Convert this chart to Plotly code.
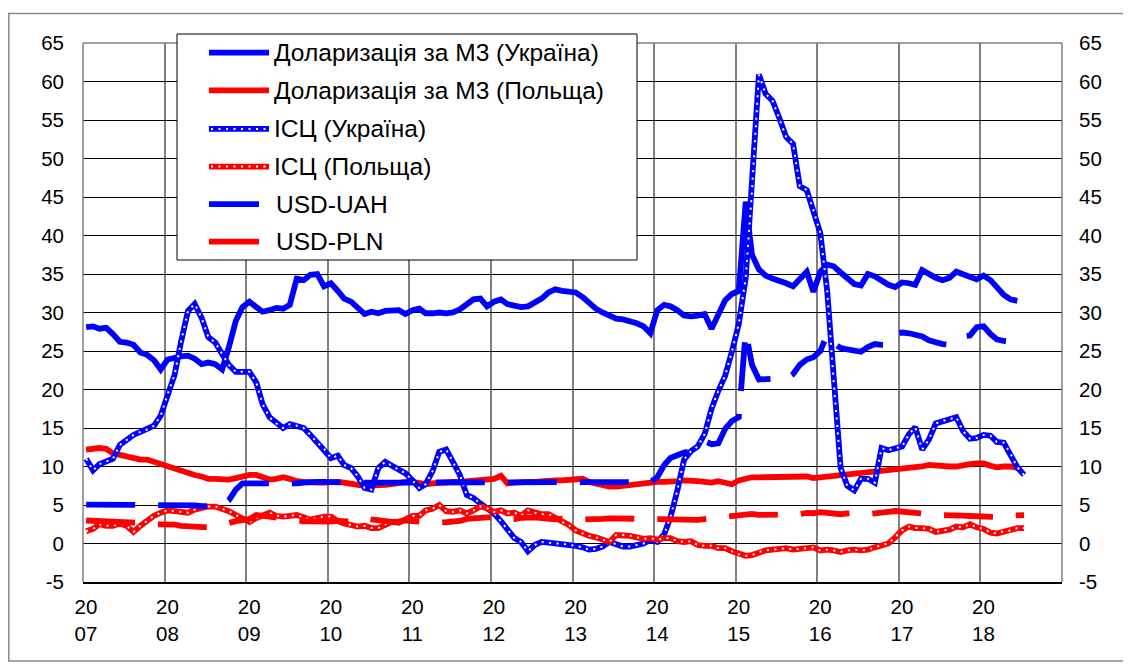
import pandas as pd
import plotly.graph_objects as go

# ---------------- DATA (monthly, Jan 2007 onwards) ----------------
start_month = "2007-01-01"

m3_ukraine = [
    28.1, 28.2, 27.9, 28.0, 27.2, 26.2, 26.1, 25.8, 24.8, 24.5, 23.8, 22.6,   # 2007
    23.9, 24.2, 24.3, 24.4, 24.0, 23.3, 23.5, 23.3, 22.6, 25.5, 28.9, 30.7,   # 2008
    31.4, 30.7, 30.1, 30.3, 30.6, 30.5, 31.0, 34.4, 34.2, 34.9, 35.0, 33.4,   # 2009
    33.8, 32.8, 31.8, 31.4, 30.6, 29.8, 30.1, 29.9, 30.2, 30.3, 30.3, 29.8,   # 2010
    30.3, 30.5, 29.9, 29.9, 30.0, 29.9, 30.0, 30.4, 31.0, 31.7, 31.8, 30.8,   # 2011
    31.4, 31.7, 31.1, 30.8, 30.7, 30.8, 31.3, 31.8, 32.6, 33.0, 32.8, 32.7,   # 2012
    32.6, 32.0, 31.2, 30.5, 30.0, 29.6, 29.2, 29.1, 28.9, 28.6, 28.2, 27.3,   # 2013
    30.3, 31.0, 30.8, 30.3, 29.6, 29.5, 29.6, 29.8, 27.9, 29.8, 31.6, 32.4,   # 2014
    32.8, 44.4, 37.5, 35.6, 34.8, 34.4, 34.2, 33.8, 33.4, 34.3, 35.3, 32.7,   # 2015
    35.3, 36.2, 36.0, 35.2, 34.4, 33.7, 33.5, 35.0, 34.7, 34.1, 33.6, 33.3,   # 2016
    33.9, 33.8, 33.6, 35.5, 34.9, 34.5, 34.2, 34.5, 35.3, 35.0, 34.5, 34.3,   # 2017
    34.8, 34.2, 33.3, 32.3, 31.7, 31.5,                                       # 2018
]

m3_poland = [
    12.2, 12.3, 12.4, 12.3, 11.7, 11.5, 11.3, 11.0, 10.9, 10.9, 10.6, 10.2,
    10.0, 9.7, 9.4, 9.1, 8.9, 8.7, 8.4, 8.4, 8.4, 8.3, 8.5, 8.7,
    8.9, 8.9, 8.6, 8.3, 8.4, 8.6, 8.4, 8.1, 8.0, 7.9, 7.9, 7.9,
    8.0, 8.0, 7.9, 7.7, 7.6, 7.5, 7.5, 7.5, 7.6, 7.7, 7.9, 8.0,
    8.0, 7.9, 7.7, 7.8, 7.9, 8.0, 8.0, 8.0, 8.1, 8.2, 8.2, 8.3,
    8.4, 8.8, 7.8, 7.9, 8.0, 8.0, 8.0, 8.1, 8.1, 8.2, 8.2, 8.3,
    8.3, 8.4, 8.0, 7.8, 7.7, 7.4, 7.4, 7.5, 7.6, 7.7, 7.9, 8.0,
    8.0, 8.0, 8.0, 8.1, 8.2, 8.2, 8.1, 8.0, 7.9, 8.1, 7.9, 7.7,
    8.2, 8.5, 8.6, 8.6, 8.6, 8.6, 8.7, 8.6, 8.6, 8.7, 8.7, 8.5,
    8.6, 8.6, 8.7, 8.8, 8.9, 9.0, 9.1, 9.2, 9.2, 9.3, 9.4, 9.5,
    9.6, 9.8, 9.9, 10.0, 10.2, 10.1, 10.0, 10.0, 10.0, 10.2, 10.3, 10.4,
    10.4, 10.1, 9.9, 10.0, 10.0, 9.8,
]

cpi_ukraine = [
    11.0, 9.5, 10.3, 10.7, 11.0, 12.8, 13.5, 14.1, 14.5, 14.8, 15.3, 16.6,
    19.4, 21.9, 26.2, 30.2, 31.1, 29.3, 26.8, 26.1, 24.6, 23.2, 22.3, 22.3,
    22.3, 20.9, 18.1, 16.4, 15.6, 15.0, 15.5, 15.3, 15.0, 14.1, 13.1, 12.3,
    11.1, 11.4, 10.2, 9.8, 8.7, 7.2, 7.0, 9.8, 10.6, 10.1, 9.6, 9.1,
    8.2, 7.2, 7.7, 9.4, 11.9, 12.2, 10.6, 8.9, 6.3, 5.9, 5.2, 4.6,
    3.9, 2.9, 1.9, 0.7, 0.2, -1.0, -0.2, 0.2, 0.1, 0.0, 0.0, -0.2,
    -0.3, -0.5, -0.8, -0.7, -0.4, 0.2, -0.1, -0.4, -0.4, -0.2, 0.0, 0.5,
    0.2, 1.2, 3.4, 6.9, 10.9, 12.0, 12.6, 14.2, 17.5, 19.8, 21.8, 24.9,
    28.5, 34.5, 45.8, 60.9, 58.4, 57.5, 55.3, 52.8, 51.9, 46.4, 45.9, 43.3,
    40.3, 32.7, 20.9, 9.8, 7.5, 6.9, 8.4, 8.4, 7.9, 12.4, 12.1, 12.4,
    12.6, 14.2, 15.1, 12.2, 13.5, 15.6, 15.9, 16.2, 16.4, 14.6, 13.6, 13.7,
    14.1, 14.0, 13.2, 13.1, 11.7, 9.9, 8.9,
]

cpi_poland = [
    1.6, 1.9, 2.5, 2.3, 2.3, 2.6, 2.3, 1.5, 2.3, 3.0, 3.6, 4.0,
    4.3, 4.2, 4.1, 4.0, 4.4, 4.6, 4.8, 4.8, 4.5, 4.2, 3.7, 3.3,
    2.8, 3.3, 3.6, 4.0, 3.6, 3.5, 3.6, 3.7, 3.4, 3.1, 3.3, 3.5,
    3.5, 2.9, 2.6, 2.4, 2.2, 2.3, 2.0, 2.0, 2.5, 2.8, 2.7, 3.1,
    3.6, 3.6, 4.3, 4.5, 5.0, 4.2, 4.1, 4.3, 3.9, 4.3, 4.8, 4.6,
    4.1, 4.3, 3.9, 4.0, 3.6, 4.3, 4.0, 3.8, 3.8, 3.4, 2.8, 2.4,
    1.7, 1.3, 1.0, 0.8, 0.5, 0.2, 1.1, 1.1, 1.0, 0.8, 0.6, 0.7,
    0.5, 0.7, 0.7, 0.3, 0.2, 0.3, -0.2, -0.3, -0.3, -0.6, -0.6, -1.0,
    -1.4, -1.6, -1.5, -1.1, -0.9, -0.8, -0.7, -0.6, -0.8, -0.7, -0.6, -0.5,
    -0.9, -0.8, -0.9, -1.1, -0.9, -0.8, -0.9, -0.8, -0.5, -0.2, 0.0, 0.8,
    1.7, 2.2, 2.0, 2.0, 1.9, 1.5, 1.7, 1.8, 2.2, 2.1, 2.5, 2.1,
    1.9, 1.4, 1.3, 1.6, 1.7, 2.0, 2.0,
]

usd_uah = [
    5.05, 5.05, 5.05, 5.05, 5.05, 5.05, 5.05, 5.05, 5.05, 5.05, 5.05, 5.05,
    5.05, 5.05, 5.05, 5.05, 4.95, 4.85, 4.85, 4.85, 4.9, 5.6, 7.0, 7.8,
    7.8, 7.7, 7.7, 7.7, 7.7, 7.7, 7.7, 7.8, 7.9, 8.0, 8.0, 8.0,
    7.95, 7.95, 7.9, 7.9, 7.9, 7.9, 7.9, 7.9, 7.9, 7.9, 7.95, 7.95,
    7.95, 7.95, 7.95, 7.95, 7.95, 7.95, 7.95, 7.95, 7.97, 7.98, 7.98, 7.99,
    7.99, 7.99, 7.99, 7.99, 7.99, 7.99, 7.99, 7.99, 7.99, 7.99, 7.99, 7.99,
    7.99, 7.99, 7.99, 7.99, 7.99, 7.99, 7.99, 7.99, 7.99, 7.99, 7.99, 7.99,
    8.6, 10.2, 11.1, 11.5, 11.8, 12.0, 12.8, 13.3, 12.9, 13.0, 14.9, 15.9,
    16.4, 27.5, 23.2, 21.3, 21.3, 21.4, 21.7, 21.4, 22.0, 23.2, 23.9, 24.2,
    25.0, 27.2, 26.0, 25.4, 25.2, 25.0, 24.9, 25.5, 25.9, 25.8, 25.8, 27.3,
    27.4, 27.3, 27.2, 26.9, 26.4, 26.1, 25.9, 25.8, 26.5, 26.9, 27.0, 28.1,
    28.2, 27.2, 26.5, 26.3, 26.2, 26.6,
]

usd_pln = [
    2.99, 2.97, 2.93, 2.83, 2.79, 2.85, 2.74, 2.80, 2.76, 2.63, 2.49, 2.49,
    2.46, 2.44, 2.29, 2.21, 2.21, 2.17, 2.07, 2.20, 2.36, 2.67, 2.90, 2.97,
    3.18, 3.71, 3.59, 3.40, 3.25, 3.24, 3.03, 2.87, 2.88, 2.87, 2.83, 2.87,
    2.86, 2.95, 2.87, 2.86, 3.18, 3.35, 3.14, 3.02, 3.00, 2.82, 2.86, 3.01,
    2.90, 2.83, 2.85, 2.72, 2.74, 2.76, 2.79, 2.93, 3.20, 3.18, 3.33, 3.39,
    3.38, 3.16, 3.13, 3.17, 3.33, 3.41, 3.38, 3.31, 3.20, 3.15, 3.22, 3.12,
    3.11, 3.13, 3.21, 3.18, 3.21, 3.27, 3.26, 3.19, 3.18, 3.05, 3.09, 3.06,
    3.07, 3.06, 3.04, 3.03, 3.03, 3.05, 3.07, 3.17, 3.25, 3.32, 3.37, 3.44,
    3.68, 3.71, 3.85, 3.71, 3.70, 3.74, 3.78, 3.77, 3.77, 3.80, 3.98, 3.93,
    4.07, 3.97, 3.85, 3.80, 3.90, 3.94, 3.97, 3.82, 3.86, 3.93, 4.12, 4.22,
    4.11, 4.05, 4.00, 3.96, 3.79, 3.75, 3.67, 3.59, 3.58, 3.61, 3.57, 3.53,
    3.40, 3.36, 3.39, 3.41, 3.62, 3.68, 3.69,
]

series_names = [
    "Доларизація за М3 (Україна)",
    "Доларизація за М3 (Польща)",
    "ІСЦ (Україна)",
    "ІСЦ (Польща)",
    "USD-UAH",
    "USD-PLN",
]

tick_years = list(range(2007, 2019))
tick_labels = [f"{str(y)[:2]}<br>{str(y)[2:]}" for y in tick_years]
y_ticks = list(range(-5, 70, 5))
y_tick_labels = [str(v) for v in y_ticks]   # plain hyphen for "-5"

# ---------------- LAYOUT CONSTANTS (page pixels) ----------------
PAGE_W, PAGE_H = 1131, 664
OFF = 8                      # default body margin of the html page
W, H = PAGE_W - OFF, PAGE_H - OFF
PLOT_L, PLOT_R, PLOT_T, PLOT_B = 83, 1062, 43, 582   # page coords of the plot area
ML, MT = PLOT_L - OFF, PLOT_T - OFF
MR, MB = W - (PLOT_R - OFF), H - (PLOT_B - OFF)
PW, PH = PLOT_R - PLOT_L, PLOT_B - PLOT_T
FONT = "Liberation Sans, Arial, sans-serif"
BLUE, RED = "#0000FF", "#FF0000"
LW = 5.8
DASH = "49px,23px"
DOTS = "2px,5.5px"


def px_x(px):
    return (px - PLOT_L) / PW


def px_y(py):
    return (PLOT_B - py) / PH


months = pd.date_range(start_month, periods=len(cpi_ukraine), freq="MS") + pd.Timedelta(days=14)

fig = go.Figure()


def add_line(vals, color, dash="solid", yaxis="y", overlay=False, name=""):
    x = months[: len(vals)]
    fig.add_trace(go.Scatter(x=x, y=vals, mode="lines", name=name, yaxis=yaxis,
                             line=dict(color=color, width=LW, dash=dash),
                             showlegend=False, hoverinfo="skip"))
    if overlay:
        fig.add_trace(go.Scatter(x=x, y=vals, mode="lines", yaxis=yaxis,
                                 line=dict(color="white", width=2, dash=DOTS),
                                 showlegend=False, hoverinfo="skip"))


add_line(m3_ukraine, BLUE, name=series_names[0])
add_line(m3_poland, RED, name=series_names[1])
add_line(cpi_ukraine, BLUE, overlay=True, name=series_names[2])
add_line(cpi_poland, RED, overlay=True, name=series_names[3])
add_line(usd_uah, BLUE, dash=DASH, yaxis="y2", name=series_names[4])
add_line(usd_pln, RED, dash=DASH, yaxis="y2", name=series_names[5])

tickfont = dict(family=FONT, size=20.5, color="black")

fig.update_layout(
    width=W, height=H, autosize=False,
    margin=dict(l=ML, r=MR, t=MT, b=MB, pad=0),
    paper_bgcolor="white", plot_bgcolor="white",
    showlegend=False,
    xaxis=dict(type="date", range=[f"{tick_years[0]}-01-01", f"{tick_years[-1] + 1}-01-01"],
               tickmode="array", tickvals=[f"{y}-01-01" for y in tick_years], ticktext=tick_labels,
               showgrid=True, gridcolor="#808080", gridwidth=1.5,
               showline=True, linecolor="black", linewidth=1.5,
               ticks="", tickfont=tickfont, ticklabelshift=3, ticklabelstandoff=6,
               zeroline=False, automargin=False),
    yaxis=dict(range=[-5, 65], tickmode="array", tickvals=y_ticks, ticktext=y_tick_labels,
               showgrid=True, gridcolor="black", gridwidth=1,
               zeroline=False, showline=False, ticks="",
               tickfont=tickfont, ticklabelstandoff=18, automargin=False),
    yaxis2=dict(range=[-5, 65], tickmode="array", tickvals=y_ticks, ticktext=y_tick_labels,
                overlaying="y", side="right",
                showgrid=False, zeroline=False, showline=False, ticks="",
                tickfont=tickfont, ticklabelstandoff=16, automargin=False),
)

shapes = []
# plot frame (top, left, right)
for x0, y0, x1, y1 in [(0, 1, 1, 1), (0, 0, 0, 1), (1, 0, 1, 1)]:
    shapes.append(dict(type="line", xref="paper", yref="paper", x0=x0, y0=y0, x1=x1, y1=y1,
                       line=dict(color="#808080", width=1.5), layer="above"))
# outer chart border
shapes.append(dict(type="rect", xref="paper", yref="paper",
                   x0=px_x(8.8), x1=px_x(1127), y0=px_y(661), y1=px_y(13.5),
                   line=dict(color="#8a8a8a", width=1.5), fillcolor="rgba(0,0,0,0)", layer="above"))
# legend box
shapes.append(dict(type="rect", xref="paper", yref="paper",
                   x0=px_x(177), x1=px_x(637), y0=px_y(260), y1=px_y(34),
                   line=dict(color="black", width=1), fillcolor="white", layer="above"))

row_y = [52.7, 90.4, 128.9, 166.6, 204.2, 241.6]
styles = [
    (BLUE, "line", 269), (RED, "line", 269), (BLUE, "dots", 269),
    (RED, "dots", 269), (BLUE, "line", 259), (RED, "line", 259),
]
annotations = []
for name, ry, (col, kind, xend) in zip(series_names, row_y, styles):
    shapes.append(dict(type="line", xref="paper", yref="paper",
                       x0=px_x(209), x1=px_x(xend), y0=px_y(ry), y1=px_y(ry),
                       line=dict(color=col, width=LW), layer="above"))
    if kind == "dots":
        shapes.append(dict(type="line", xref="paper", yref="paper",
                           x0=px_x(211), x1=px_x(xend), y0=px_y(ry), y1=px_y(ry),
                           line=dict(color="white", width=2, dash=DOTS), layer="above"))
    tx = 273 if xend == 269 else 275
    annotations.append(dict(text=name, xref="paper", yref="paper", x=px_x(tx), y=px_y(ry),
                            xanchor="left", yanchor="middle", showarrow=False, borderpad=0,
                            font=dict(family=FONT, size=24.5, color="black")))

fig.update_layout(shapes=shapes, annotations=annotations)

fig.write_html("out.html")
